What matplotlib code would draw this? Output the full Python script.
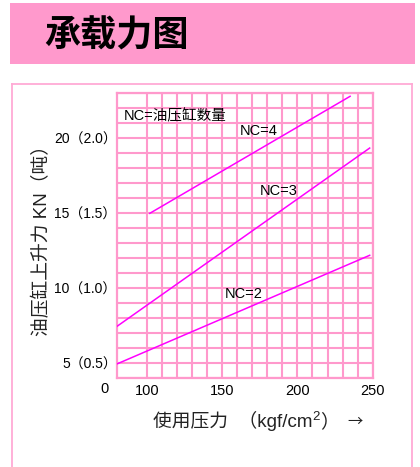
import matplotlib
matplotlib.use("Agg")
import matplotlib.pyplot as plt
from matplotlib.patches import Rectangle
from matplotlib.lines import Line2D
from matplotlib.transforms import blended_transform_factory

plt.rcParams['font.family'] = ['Liberation Sans', 'Noto Sans CJK SC', 'DejaVu Sans']

# ---- data ----
title = "承载力图"
nc4_x = [102, 235]
nc4_y = [15.0, 22.8]
nc3_x = [80, 248]
nc3_y = [7.45, 19.35]
nc2_x = [80, 248]
nc2_y = [4.95, 12.2]
series_labels = ["NC=4", "NC=3", "NC=2"]
legend_note = "NC=油压缸数量"
x_ticks = [100, 150, 200, 250]
x_ticklabels = ["100", "150", "200", "250"]
y_ticks = [5, 10, 15, 20]
y_ticklabels = ["5（0.5）", "10（1.0）", "15（1.5）", "20（2.0）"]
x_label_parts = ["使用压力  （kgf/cm", "2", "）", "→"]
y_label = "油压缸上升力 KN（吨）"

W, H = 420, 467
fig = plt.figure(figsize=(W / 100, H / 100), dpi=100)
pink = "#FF99CC"
frame_pink = "#FFAAD5"
mag = "#FF00FF"
fam = ['Liberation Sans', 'Noto Sans CJK SC', 'DejaVu Sans']
cjk = ['Noto Sans CJK SC', 'DejaVu Sans']
lab_col = "#222222"

# title bar
fig.patches.append(Rectangle((10 / W, 1 - 64.5 / H), 405 / W, 61.5 / H,
                             transform=fig.transFigure, facecolor=pink,
                             edgecolor="none", zorder=0))
fig.text(44 / W, 1 - 36 / H, title, fontsize=26, fontweight="bold",
         ha="left", va="center", color="black", family=['Noto Sans CJK SC'])

# outer frame
fy = 1 - 84 / H
fig.lines.append(Line2D([12 / W, 12 / W], [0, fy], transform=fig.transFigure,
                        color=frame_pink, lw=1.3))
fig.lines.append(Line2D([412 / W, 412 / W], [0, fy], transform=fig.transFigure,
                        color=frame_pink, lw=1.3))
fig.lines.append(Line2D([12 / W, 412 / W], [fy, fy], transform=fig.transFigure,
                        color=frame_pink, lw=1.3))

# axes
ax = fig.add_axes([116.7 / W, 1 - 378.3 / H, 256 / W, 285 / H])
ax.set_xlim(80, 250)
ax.set_ylim(4, 23)
for v in range(100, 251, 10):
    ax.axvline(v, color=pink, lw=1.5, zorder=1)
for v in range(4, 24):
    ax.axhline(v, color=pink, lw=1.5, zorder=1)
for s in ax.spines.values():
    s.set_color(pink)
    s.set_linewidth(1.6)

ax.plot(nc4_x, nc4_y, color=mag, lw=1.1, zorder=3)
ax.plot(nc3_x, nc3_y, color=mag, lw=1.1, zorder=3)
ax.plot(nc2_x, nc2_y, color=mag, lw=1.1, zorder=3)

lab_pos = [(161.5, 20.5), (175, 16.5), (151.5, 9.6)]
for (lx, ly), t in zip(lab_pos, series_labels):
    ax.text(lx, ly, t, fontsize=10.5, ha="left", va="center", color="black",
            zorder=4, family=fam)
ax.text(84.4, 21.5, legend_note, fontsize=10.5, ha="left", va="center",
        color="black", zorder=4, family=fam)

ax.set_xticks(x_ticks)
ax.set_xticklabels(x_ticklabels, fontsize=10.5, family=fam)
ax.set_yticks(y_ticks)
ax.set_yticklabels(y_ticklabels, fontsize=10, family=fam)
ax.tick_params(axis="y", length=0, pad=0)
ax.tick_params(axis="x", length=0, pad=4)

tr = blended_transform_factory(ax.transData, ax.transAxes)
ax.text(72.2, -0.014, "0", transform=tr, fontsize=10.5, ha="center", va="top",
        family=fam)

# y label
fig.text(42 / W, 1 - 236 / H, y_label, rotation=90, fontsize=13.5,
         ha="center", va="center", color=lab_col, family=fam)

# x label (pieces for superscript)
base = H - 427
x1 = ax.annotate(x_label_parts[0], xy=(153, base), xycoords="figure pixels",
                 ha="left", va="baseline", fontsize=13.5,
                 color=lab_col, family=fam, annotation_clip=False)
x2 = ax.annotate(x_label_parts[1], xy=(1, base + 7), xycoords=(x1, "figure pixels"),
                 ha="left", va="baseline", fontsize=9.5,
                 color=lab_col, family=fam, annotation_clip=False)
x3 = ax.annotate(x_label_parts[2], xy=(1, base), xycoords=(x2, "figure pixels"),
                 ha="left", va="baseline", fontsize=13.5,
                 color=lab_col, family=cjk, annotation_clip=False)
x4 = ax.annotate(x_label_parts[3], xy=(347, H - 421), xycoords="figure pixels",
                 ha="left", va="center", fontsize=11,
                 color=lab_col, family=cjk, annotation_clip=False)

fig.savefig("out.png", dpi=100)
